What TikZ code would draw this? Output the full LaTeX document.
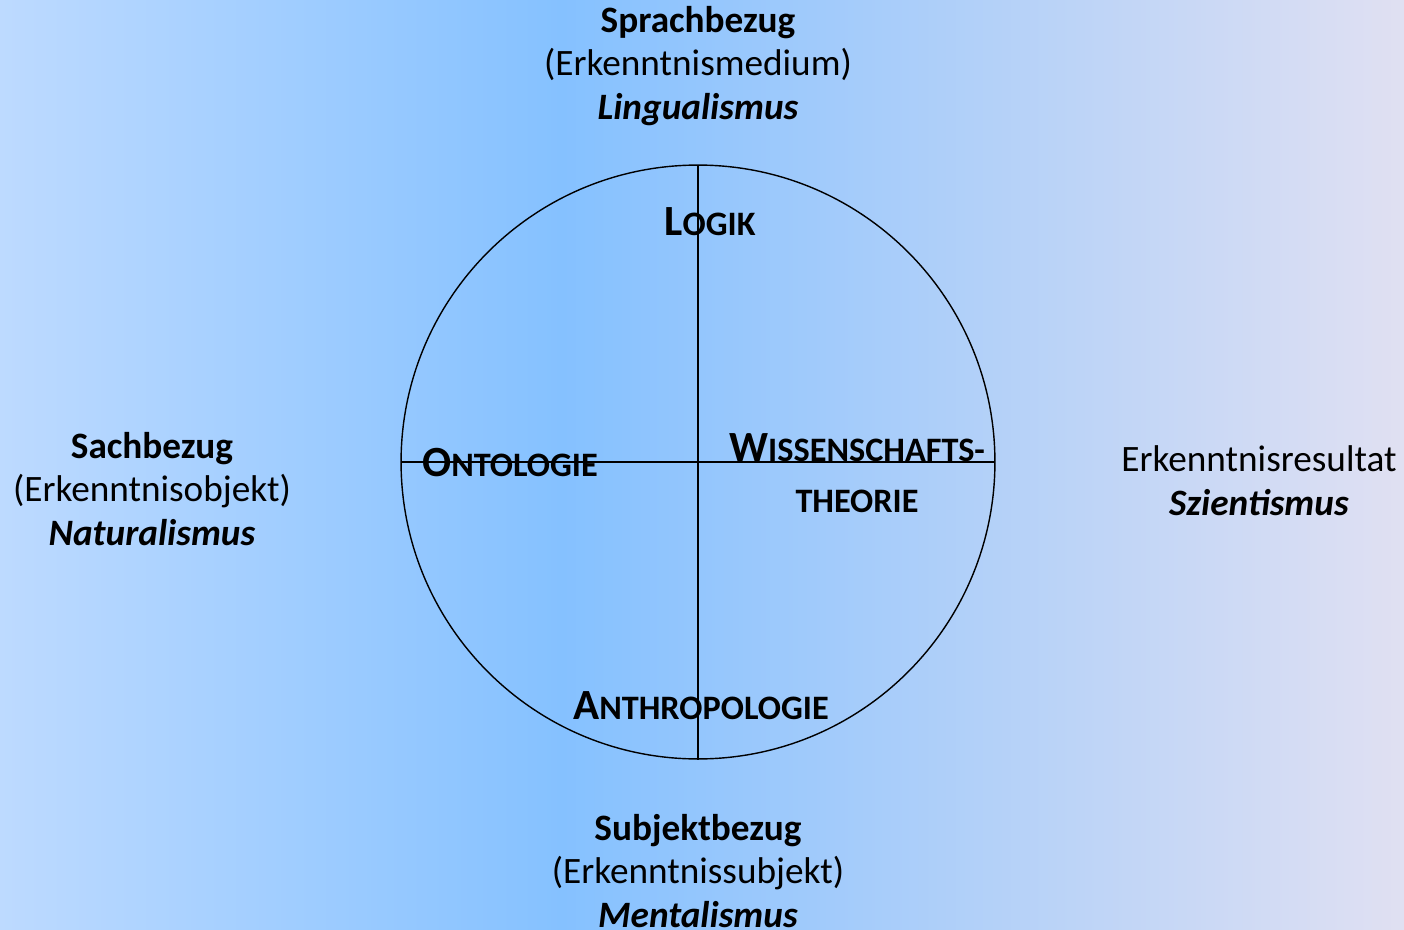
\documentclass[tikz,border=0pt]{standalone}
\usepackage{fontspec}
\setmainfont{Carlito}
\usetikzlibrary{positioning}

\definecolor{bgleft}{HTML}{BDDAFF}
\definecolor{bgmid}{HTML}{85C1FF}
\definecolor{bgright}{HTML}{E0E0F2}
\pgfdeclarehorizontalshading{bgshade}{100bp}{color(0bp)=(bgleft); color(25bp)=(bgleft); color(45bp)=(bgmid); color(75bp)=(bgright); color(100bp)=(bgright)}

\newcommand{\capsc}[2]{{\fontsize{24.5}{28}\selectfont #1}{\fontsize{19.5}{24}\selectfont #2}}

\begin{document}
\begin{tikzpicture}[x=0.02cm, y=-0.02cm,
    every node/.style={font=\fontsize{21.2}{25}\selectfont, align=center, inner sep=0pt},
    field/.style={font=\bfseries}]
      \useasboundingbox (0,0) rectangle (1404,930);
      \shade[shading=bgshade] (0,0) rectangle (1404,930);
      % circle with its two axes
      \coordinate (centre) at (698,462);
      \coordinate (top) at (698,165);
      \coordinate (bottom) at (698,760);
      \coordinate (west) at (401,462);
      \coordinate (east) at (995,462);
      \draw[line width=0.8pt] (centre) circle [radius=5.94cm];
      \draw[line width=0.8pt] (top) -- (bottom);
      \draw[line width=0.8pt] (west) -- (east);
      % the four fields
      \node[field] (logik) at (710,222) {\capsc{L}{OGIK}};
      \node[field] (onto) at (510,463) {\capsc{O}{NTOLOGIE}};
      \node[field] (wiss) at (857,448) {\capsc{W}{ISSENSCHAFTS-}};
      \node[font=\fontsize{19.5}{24}\selectfont\bfseries] (theorie) at (857,501) {THEORIE};
      \node[field] (anthro) at (701,706) {\capsc{A}{NTHROPOLOGIE}};
      % the four relations
      \node (sprach) at (698,66) {\textbf{Sprachbezug}\\(Erkenntnismedium)\\\textbf{\textit{Lingualismus}}};
      \node (sach) at (152,489) {\textbf{Sachbezug}\\(Erkenntnisobjekt)\\\textbf{\textit{Naturalismus}}};
      \node (resultat) at (1259,481) {Erkenntnisresultat\\\textbf{\textit{Szientismus}}};
      \node (subjekt) at (698,871) {\textbf{Subjektbezug}\\(Erkenntnissubjekt)\\\textbf{\textit{Mentalismus}}};
    \end{tikzpicture}
\end{document}
